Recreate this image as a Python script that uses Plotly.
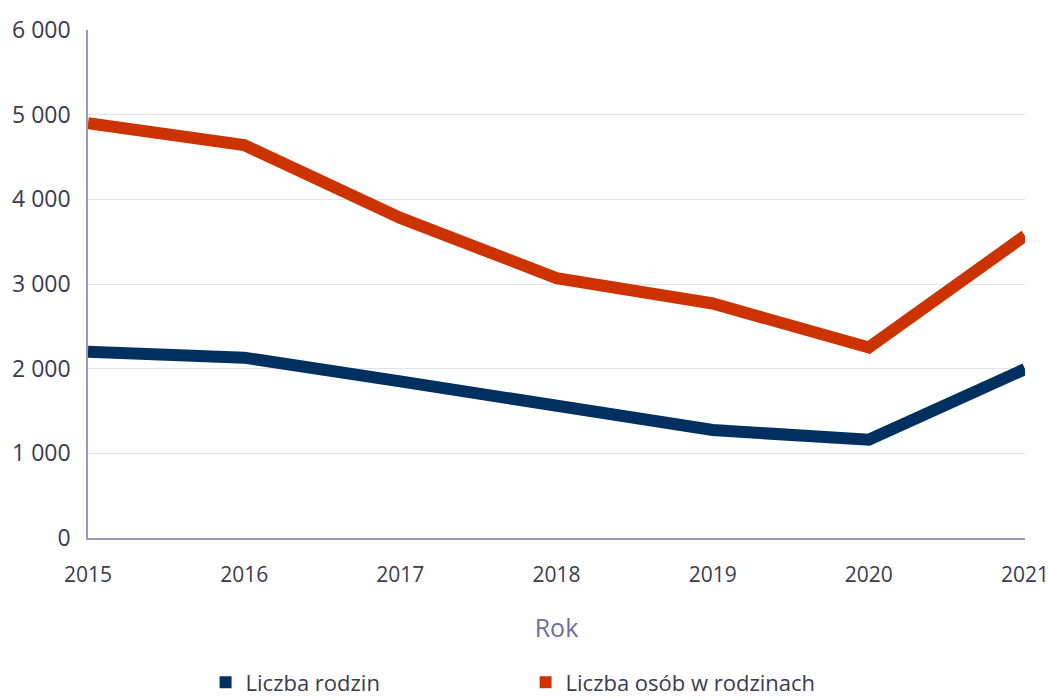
import plotly.graph_objects as go

years = [2015, 2016, 2017, 2018, 2019, 2020, 2021]
liczba_rodzin = [2200, 2130, 1850, 1570, 1275, 1160, 1995]
liczba_osob = [4900, 4640, 3780, 3070, 2770, 2250, 3570]
series_names = ["Liczba rodzin", "Liczba osób w rodzinach"]
colors = ["#00305f", "#cc3300"]
y_ticks = [0, 1000, 2000, 3000, 4000, 5000, 6000]
y_labels = ["0", "1 000", "2 000", "3 000", "4 000", "5 000", "6 000"]

font = "Open Sans"
txt = "#3b3b4f"

fig = go.Figure()
for name, vals, c in zip(series_names, [liczba_rodzin, liczba_osob], colors):
    fig.add_trace(go.Scatter(x=years, y=vals, mode="lines", name=name,
                             line=dict(color=c, width=12), showlegend=False,
                             hoverinfo="x+y"))
for name, c in zip(series_names, colors):
    fig.add_trace(go.Scatter(x=[None], y=[None], mode="markers", name=name,
                             marker=dict(symbol="square", size=20, color=c)))

fig.update_layout(
    width=1048, height=700,
    margin=dict(l=88, r=23, t=30, b=162),
    paper_bgcolor="white", plot_bgcolor="white",
    font=dict(family=font, size=22, color=txt),
    xaxis=dict(range=[2015, 2021], tickvals=years, showgrid=False,
               showline=True, linecolor="#9a9ac0", linewidth=1.5,
               ticks="", ticklabelstandoff=17, automargin=False,
               ticklabeloverflow="allow",
               tickfont=dict(size=21, color=txt),
               title=dict(text="Rok", font=dict(size=25, color="#6f6f98"), standoff=33)),
    yaxis=dict(range=[0, 6000], tickvals=y_ticks, ticktext=y_labels,
               showgrid=True, gridcolor="#e2e2ee", gridwidth=1,
               showline=True, linecolor="#9a9ac0", linewidth=1.5,
               zeroline=False, ticks="", ticklabelstandoff=11, automargin=False,
               ticklabeloverflow="allow",
               tickfont=dict(size=23, color=txt)),
    legend=dict(orientation="h", x=0.467, xanchor="center",
                yref="container", y=0.025, yanchor="middle",
                font=dict(size=22, color=txt), entrywidth=275, entrywidthmode="pixels",
                itemsizing="constant"),
)

fig.write_html("out.html", config={"displayModeBar": False},
               post_script="document.body.style.margin='0px';")
